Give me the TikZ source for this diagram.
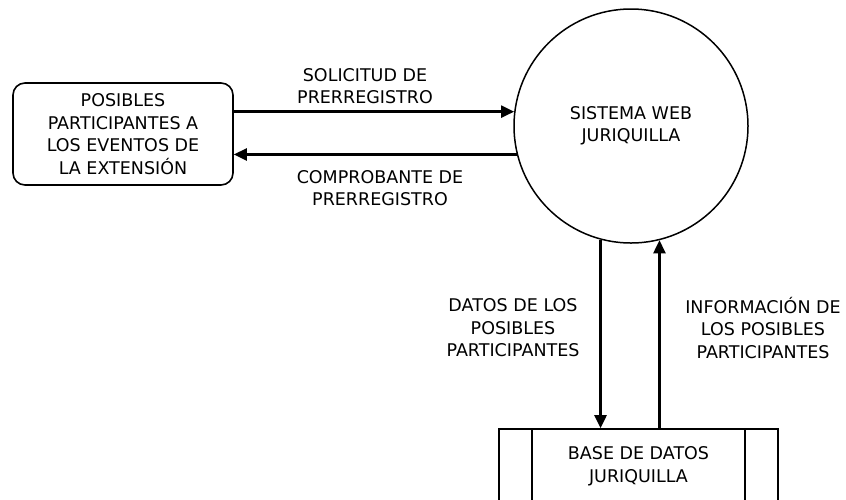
\documentclass[tikz,border=0pt]{standalone}
\usepackage{fontspec}
\setmainfont{DejaVu Sans}
\usetikzlibrary{arrows.meta,calc}
\tikzstyle{entity}=[draw,line width=1.6pt,rounded corners=12pt,minimum width=220pt,minimum height=102pt,align=center,inner sep=0pt]
\tikzstyle{process}=[draw,circle,line width=1.5pt,minimum size=234pt,align=center,inner sep=0pt]
\tikzstyle{store}=[draw,line width=1.6pt,minimum width=279pt,minimum height=74pt,align=center,inner sep=0pt]
\tikzstyle{flow}=[line width=2.4pt,-{Triangle[length=13pt,width=12pt]}]
\tikzstyle{flowlabel}=[align=center,inner sep=0pt]
\newcommand{\dfdfont}{\fontsize{17.5}{22.5}\selectfont}

\begin{document}
\begin{tikzpicture}[x=1pt,y=-1pt,font=\dfdfont]
\useasboundingbox (0,0) rectangle (846,499);
\clip (0,0) rectangle (846,499);
	\node[entity] (part) at (123,134) {POSIBLES\\PARTICIPANTES A\\LOS EVENTOS DE\\LA EXTENSIÓN};
	\node[process] (sys) at (631,126) {SISTEMA WEB\\JURIQUILLA};
	\node[store] (db) at (638.5,466) {BASE DE DATOS\\JURIQUILLA};
	% side bars of the data store
	\draw[line width=1.6pt] ($(db.north west)+(34,0)$) -- ($(db.south west)+(34,0)$);
	\draw[line width=1.6pt] ($(db.north east)+(-34,0)$) -- ($(db.south east)+(-34,0)$);
	% flows between entity and system
	\draw[flow] (sys.173 -| part.east) -- (sys.173);
	\draw[flow] (sys.194.8) -- (sys.194.8 -| part.east);
	\node[flowlabel] (solicitud) at (365,86) {SOLICITUD DE\\PRERREGISTRO};
	\node[flowlabel] (comprobante) at (380,188) {COMPROBANTE DE\\PRERREGISTRO};
	% flows between system and data store
	\draw[flow] (sys.255.6) -- (sys.255.6 |- db.north);
	\draw[flow] (sys.284.4 |- db.north) -- (sys.284.4);
	\node[flowlabel] (datos) at (513,328) {DATOS DE LOS\\POSIBLES\\PARTICIPANTES};
	\node[flowlabel] (info) at (763,328) {INFORMACIÓN DE\\LOS POSIBLES\\PARTICIPANTES};
\end{tikzpicture}
\end{document}
